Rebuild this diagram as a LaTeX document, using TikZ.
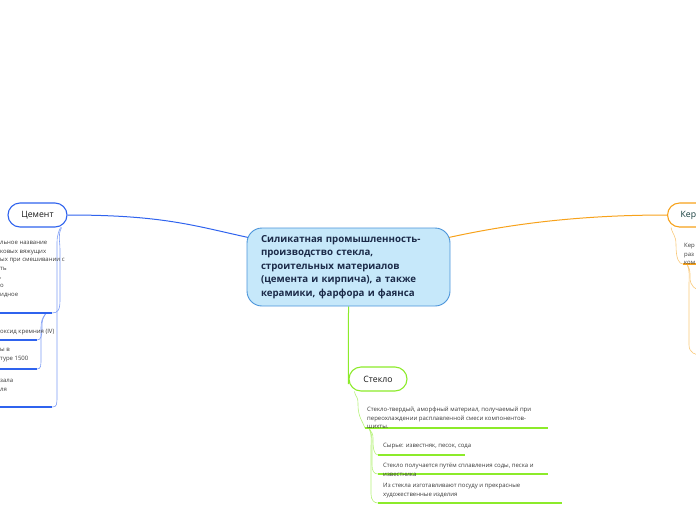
\documentclass[tikz,border=0pt]{standalone}
\usepackage{fontspec}
\setmainfont{Open Sans}
\usetikzlibrary{backgrounds}
\definecolor{cblue}{HTML}{2F63EE}
\definecolor{cblueL}{HTML}{7D9CF5}
\definecolor{mainfill}{HTML}{C6E8FA}
\definecolor{mainborder}{HTML}{4A94DA}
\definecolor{maintext}{HTML}{1B2A48}
\definecolor{orng}{HTML}{F7A21B}
\definecolor{orngL}{HTML}{F9C878}
\definecolor{glime}{HTML}{8CEB2A}
\definecolor{glimeL}{HTML}{B6F27A}
\definecolor{txtgray}{HTML}{3A3A3A}
\definecolor{kertext}{HTML}{123A3A}
\begin{document}
\begin{tikzpicture}[x=1pt,y=-1pt,
  central/.style={draw=mainborder, fill=mainfill, line width=0.9pt, rounded corners=15pt,
    text width=175pt, inner xsep=14pt, minimum height=78pt, align=left, text=maintext,
    font=\fontsize{9.7}{13.6}\selectfont\bfseries},
  topic/.style={draw, fill=white, line width=1.1pt, rounded corners=12pt, minimum height=24pt,
    inner xsep=13pt, font=\fontsize{8.7}{10}\selectfont, text=black!90},
  small/.style={anchor=north west, inner sep=0pt, align=left, text=txtgray,
    font=\fontsize{6}{8.6}\selectfont},
  uline/.style={line width=1.3pt},
  branch/.style={line width=1pt},
  twig/.style={line width=0.6pt}]
\useasboundingbox (0,0) rectangle (696,520);
\clip (0,0) rectangle (696,520);

% central
\node[central] (c) at (348.5,267) {Силикатная промышленность-\\производство стекла,\\строительных материалов\\(цемента и кирпича), а также\\керамики, фарфора и фаянса};

% main topics
\node[topic, draw=cblue, minimum width=59pt] (cem) at (37.5,215) {Цемент};
\node[topic, draw=glime, minimum width=58pt] (st) at (378,379) {Стекло};
\node[topic, draw=orng, anchor=west, text=kertext] (ker) at (667,215) {Керамика};

% Cement items (cropped at the left edge)
\node[small] (ca) at (0,241) {льное название\\ковых вяжущих\\ых при смешивании с\\ть\\,\\о\\идное};
\coordinate (caL) at (0,313); \coordinate (caR) at (52,313);
\node[small] (cb) at (0,329) {оксид кремния (IV)};
\coordinate (cbL) at (0,340); \coordinate (cbR) at (37,340);
\node[small] (cc) at (0,348) {ы в\\туре 1500};
\coordinate (ccL) at (0,369); \coordinate (ccR) at (37,369);
\node[small] (cd) at (0,379) {зала\\ля};
\coordinate (cdL) at (0,407); \coordinate (cdR) at (52,407);

% Glass items
\node[small] (g1) at (367,407) {Стекло-твердый, аморфный материал, получаемый при\\переохлаждении расплавленной смеси компонентов-\\шихты.};
\coordinate (g1L) at (365,428); \coordinate (g1R) at (548,428);
\node[small] (g2) at (383,443) {Сырье: известняк, песок, сода};
\coordinate (g2L) at (378,455); \coordinate (g2R) at (465,455);
\node[small] (g3) at (383,463) {Стекло получается путём сплавления соды, песка и\\известника};
\coordinate (g3L) at (378,474); \coordinate (g3R) at (548,474);
\node[small] (g4) at (383,483) {Из стекла изготавливают посуду и прекрасные\\художественные изделия};
\coordinate (g4L) at (378,503); \coordinate (g4R) at (562,503);

% Ceramics item
\node[small] (k1) at (684,243) {Кер\\раз\\ком};
\coordinate (k1L) at (683,264); \coordinate (k1R) at (700,264);
\coordinate (k2) at (700,290);
\coordinate (k3) at (700,355);

\begin{scope}[on background layer]
  % main branches
  \draw[cblue, branch] (cem.east) .. controls +(95,0) and +(-55,-12) .. ([shift={(2,10)}]c.north west);
  \draw[orng, branch] ([shift={(-2,10)}]c.north east) .. controls +(55,-12) and +(-95,0) .. (ker.west);
  \draw[glime, branch] (c.south) -- ([yshift=-5]st.west);

  % cement twigs
  \draw[cblueL, twig] ([xshift=-6]cem.south east) .. controls +(-4,8) and +(0,-10) .. (60,250) -- (60,300) .. controls +(0,10) and +(6,0) .. (caR);
  \draw[cblueL, twig] ([xshift=-7]cem.south east) .. controls +(-4,8) and +(0,-10) .. (57,250) -- (57,395) .. controls +(0,10) and +(5,0) .. (cdR);
  \draw[cblueL, twig] ([xshift=-6]caR) .. controls +(-3,6) and +(0,-10) .. (42,328) .. controls +(0,8) and +(4,0) .. (cbR);
  \draw[cblueL, twig] ([xshift=-6]caR) .. controls +(-4,6) and +(0,-10) .. (41,330) -- (41,358) .. controls +(0,8) and +(4,0) .. (ccR);
  \draw[cblue, uline] (caL) -- (caR);
  \draw[cblue, uline] (cbL) -- (cbR);
  \draw[cblue, uline] (ccL) -- (ccR);
  \draw[cblue, uline] (cdL) -- (cdR);

  % glass twigs
  \draw[glimeL, twig] ([xshift=6]st.south west) .. controls +(2,8) and +(0,-10) .. (358,405) .. controls +(0,12) and +(-2,-6) .. (g1L);
  \draw[glimeL, twig] ([xshift=4]g1L) .. controls +(3,6) and +(0,-8) .. (373,440) .. controls +(0,8) and +(-4,0) .. (g2L);
  \draw[glimeL, twig] ([xshift=4]g1L) .. controls +(3,6) and +(0,-8) .. (372,445) -- (372,465) .. controls +(0,6) and +(-4,0) .. (g3L);
  \draw[glimeL, twig] ([xshift=4]g1L) .. controls +(3,6) and +(0,-8) .. (371,448) -- (371,494) .. controls +(0,6) and +(-4,0) .. (g4L);
  \draw[glime, uline] (g1L) -- (g1R);
  \draw[glime, uline] (g2L) -- (g2R);
  \draw[glime, uline] (g3L) -- (g3R);
  \draw[glime, uline] (g4L) -- (g4R);

  % ceramics twigs
  \draw[orngL, twig] ([xshift=4]ker.south west) .. controls +(2,8) and +(0,-10) .. (676,245) .. controls +(0,14) and +(-4,0) .. (k1L);
  \draw[orngL, twig] ([xshift=4]k1L) .. controls +(3,6) and +(0,-8) .. (690,278) .. controls +(0,8) and +(-4,0) .. (k2);
  \draw[orngL, twig] ([xshift=4]k1L) .. controls +(3,6) and +(0,-8) .. (689,285) -- (689,345) .. controls +(0,8) and +(-4,0) .. (k3);
  \draw[orng, uline] (k1L) -- (k1R);
\end{scope}
\end{tikzpicture}
\end{document}
